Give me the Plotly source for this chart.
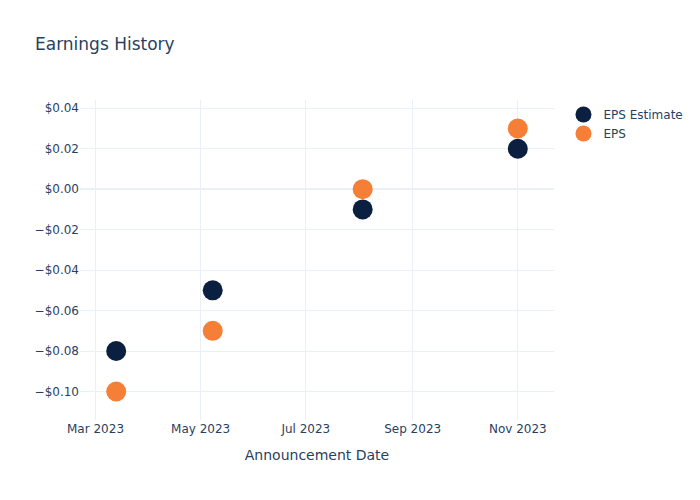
import plotly.graph_objects as go

dates = ["2023-03-13", "2023-05-08", "2023-08-03", "2023-11-01"]
eps_estimate = [-0.08, -0.05, -0.01, 0.02]
eps_actual = [-0.10, -0.07, 0.00, 0.03]

fig = go.Figure()
fig.add_trace(go.Scatter(x=dates, y=eps_estimate, mode="markers", name="EPS Estimate",
                         marker=dict(color="#0B1F40", size=20)))
fig.add_trace(go.Scatter(x=dates, y=eps_actual, mode="markers", name="EPS",
                         marker=dict(color="#F57F36", size=20)))
fig.update_layout(
    template="plotly_white",
    width=700, height=500,
    font=dict(family="DejaVu Sans"),
    title=dict(text="Earnings History"),
    xaxis=dict(title=dict(text="Announcement Date")),
    yaxis=dict(tickformat="$.2f"),
)
fig.write_html("out.html")
